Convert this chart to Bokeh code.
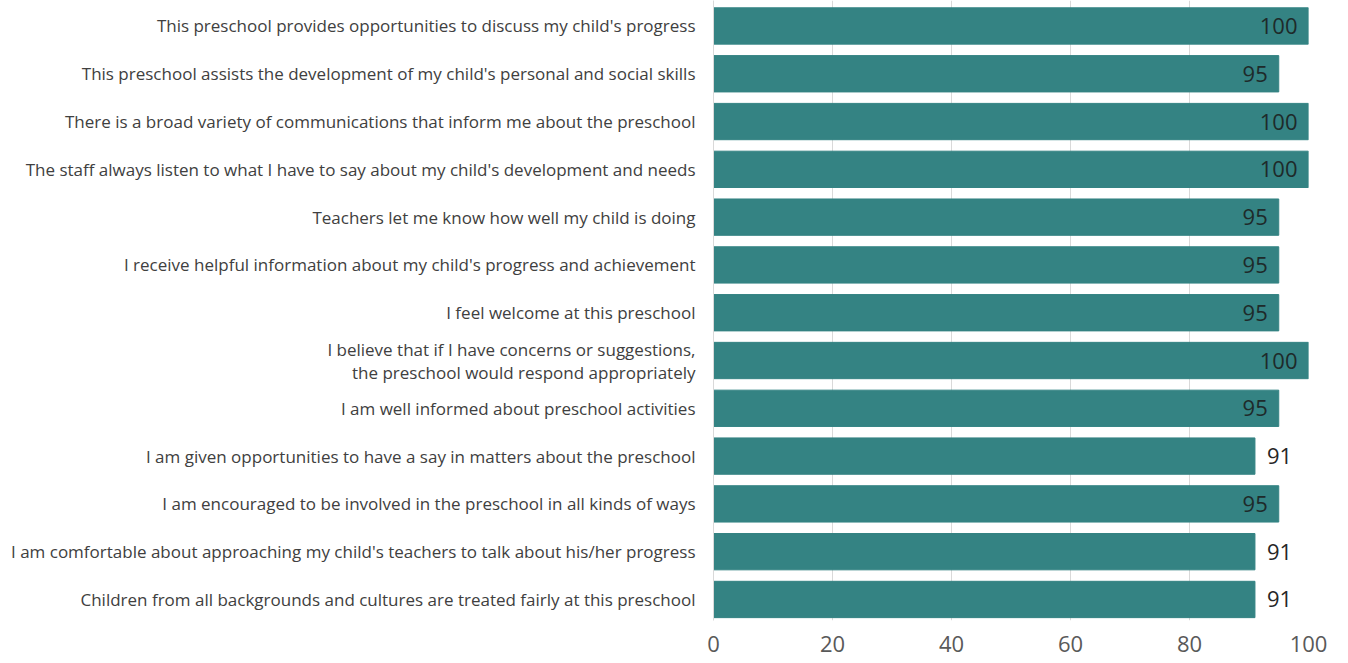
from bokeh.plotting import figure
from bokeh.models import ColumnDataSource, FixedTicker, Range1d
from bokeh.core.properties import value
from bokeh.embed import file_html
from bokeh.resources import INLINE

categories = [
    "This preschool provides opportunities to discuss my child's progress",
    "This preschool assists the development of my child's personal and social skills",
    "There is a broad variety of communications that inform me about the preschool",
    "The staff always listen to what I have to say about my child's development and needs",
    "Teachers let me know how well my child is doing",
    "I receive helpful information about my child's progress and achievement",
    "I feel welcome at this preschool",
    "I believe that if I have concerns or suggestions,\nthe preschool would respond appropriately",
    "I am well informed about preschool activities",
    "I am given opportunities to have a say in matters about the preschool",
    "I am encouraged to be involved in the preschool in all kinds of ways",
    "I am comfortable about approaching my child's teachers to talk about his/her progress",
    "Children from all backgrounds and cultures are treated fairly at this preschool",
]
values = [100, 95, 100, 100, 95, 95, 95, 100, 95, 91, 95, 91, 91]
x_ticks = [0, 20, 40, 60, 80, 100]

n = len(categories)
ypos = [n - 1 - i for i in range(n)]
inside = [v >= 95 for v in values]

src_in = ColumnDataSource(dict(
    y=[y for y, f in zip(ypos, inside) if f],
    v=[v for v, f in zip(values, inside) if f],
    t=[str(v) for v, f in zip(values, inside) if f],
))
src_out = ColumnDataSource(dict(
    y=[y for y, f in zip(ypos, inside) if not f],
    v=[v for v, f in zip(values, inside) if not f],
    t=[str(v) for v, f in zip(values, inside) if not f],
))
src = ColumnDataSource(dict(y=ypos, v=values))

p = figure(width=1338, height=662, output_backend="svg", toolbar_location=None,
           x_range=Range1d(0, 100), y_range=Range1d(-0.44, n - 1 + 0.533),
           min_border_left=713, min_border_right=30, min_border_top=0, min_border_bottom=42)
p.outline_line_color = None
p.background_fill_color = "white"

p.hbar(y="y", right="v", left=0, height=0.76, source=src,
       fill_color="#348383", line_color="#348383")

p.text(x="v", y="y", text="t", source=src_in, x_offset=-11,
       text_align="right", text_baseline="middle", text_font=value("Open Sans"),
       text_font_size="22px", text_color="#1e2a2a")
p.text(x="v", y="y", text="t", source=src_out, x_offset=12,
       text_align="left", text_baseline="middle", text_font=value("Open Sans"),
       text_font_size="22px", text_color="#262626")

# x axis
p.xaxis.ticker = FixedTicker(ticks=x_ticks)
p.xaxis.axis_line_color = None
p.xaxis.major_tick_line_color = None
p.xaxis.major_tick_out = 0
p.xaxis.minor_tick_line_color = None
p.xaxis.major_label_text_font = "Open Sans"
p.xaxis.major_label_text_font_size = "22px"
p.xaxis.major_label_text_color = "#595959"
p.xaxis.major_label_standoff = 15

# y axis
p.yaxis.ticker = FixedTicker(ticks=ypos)
p.yaxis.major_label_overrides = {y: c for y, c in zip(ypos, categories)}
p.yaxis.axis_line_color = "#d9d9d9"
p.yaxis.major_tick_line_color = None
p.yaxis.major_tick_out = 0
p.yaxis.minor_tick_line_color = None
p.yaxis.major_label_text_font = "Open Sans"
p.yaxis.major_label_text_font_size = "17px"
p.yaxis.major_label_text_color = "#404040"
p.yaxis.major_label_text_line_height = 1.0
p.yaxis.major_label_standoff = 18

p.xgrid.ticker = FixedTicker(ticks=[20, 40, 60, 80, 100])
p.xgrid.grid_line_color = "#d9d9d9"
p.ygrid.grid_line_color = None

open("out.html", "w").write(file_html(p, INLINE))
